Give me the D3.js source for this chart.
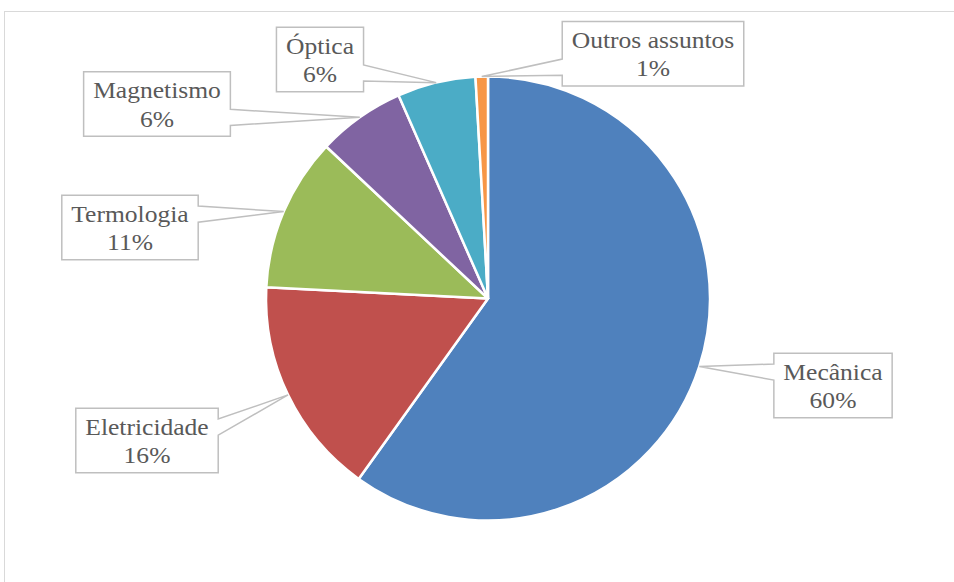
<!DOCTYPE html>
<html>
<head>
<meta charset="utf-8">
<script src="https://cdn.jsdelivr.net/npm/d3@7"></script>
<style>
  html, body { margin: 0; padding: 0; background: #fff; }
  svg { display: block; }
</style>
</head>
<body>
<svg id="chart" width="954" height="582"></svg>
<script>
// ---- data ----
const categories = ["Mecânica", "Eletricidade", "Termologia", "Magnetismo", "Óptica", "Outros assuntos"];
const values = [59.9, 15.9, 11.2, 6.4, 5.7, 0.9];
const colors = ["#4F81BD", "#C0504D", "#9BBB59", "#8064A2", "#4BACC6", "#F79646"];
// callout box centres (layout)
const labelCenters = [[833, 385.5], [147, 440.5], [130, 227.5], [157, 104], [320, 59.5], [653, 53.7]];

const W = 954, H = 582;
const cx = 488, cy = 298.5, R = 222;
const svg = d3.select("#chart");

// chart area border
svg.append("rect").attr("x", 4.5).attr("y", 11.5).attr("width", 1200).attr("height", 1000)
  .attr("fill", "none").attr("stroke", "#d9d9d9").attr("stroke-width", 1);

const total = d3.sum(values);
const pie = d3.pie().sort(null).value(d => d.v)(categories.map((c, i) => ({c, v: values[i], i})));
const arc = d3.arc().innerRadius(0).outerRadius(R);

const g = svg.append("g").attr("transform", `translate(${cx},${cy})`);
g.selectAll("path").data(pie).join("path")
  .attr("d", arc)
  .attr("fill", d => colors[d.data.i])
  .attr("stroke", "#fff").attr("stroke-width", 2.5).attr("stroke-linejoin", "round");

// labels with callouts
const fontSize = 24, sx = 1.065;
const lg = svg.append("g");
pie.forEach(d => {
  const i = d.data.i;
  const mid = (d.startAngle + d.endAngle) / 2;
  const tip = [cx + R * Math.sin(mid), cy - R * Math.cos(mid)];
  const pct = Math.round(d.data.v / total * 100) + "%";
  const grp = lg.append("g");
  const [lx, ly] = labelCenters[i];
  const h = 64.4;
  const top = ly - h / 2;
  const t = grp.append("text").attr("font-family", "'Liberation Serif', 'Times New Roman', serif")
    .attr("font-size", fontSize).attr("fill", "#595959").attr("text-anchor", "middle")
    .attr("transform", `translate(${lx},0) scale(${sx},1)`);
  t.append("tspan").attr("x", 0).attr("y", top + 26.7).text(d.data.c);
  t.append("tspan").attr("x", 0).attr("y", top + 55).text(pct);
  const tw = t.node().getBBox().width * sx;
  const w = tw + 19;
  const left = lx - w / 2, right = lx + w / 2, bottom = top + h;
  const upper = tip[1] < ly;
  const b1 = top + h * (upper ? 2 / 12 : 7 / 12);
  const b2 = top + h * (upper ? 5 / 12 : 10 / 12);
  let p;
  if (tip[0] > right) {
    p = `M${left},${top}H${right}V${b1}L${tip[0]},${tip[1]}L${right},${b2}V${bottom}H${left}Z`;
  } else {
    p = `M${left},${top}H${right}V${bottom}H${left}V${b2}L${tip[0]},${tip[1]}L${left},${b1}Z`;
  }
  grp.insert("path", "text").attr("d", p).attr("fill", "#fff")
    .attr("stroke", "#bfbfbf").attr("stroke-width", 1.5).attr("stroke-linejoin", "miter");
});
</script>
</body>
</html>
